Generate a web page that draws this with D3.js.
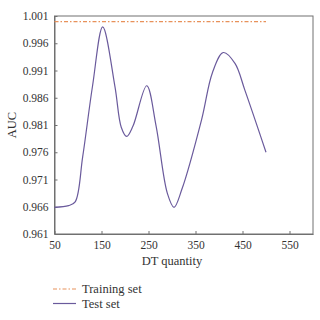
<!DOCTYPE html>
<html>
<head>
<meta charset="utf-8">
<script src="https://cdn.jsdelivr.net/npm/d3@7"></script>
<style>
  body { margin: 0; background: #fff; }
  svg text { font-family: "Liberation Serif", "DejaVu Serif", serif; fill: #333; }
</style>
</head>
<body>
<svg id="chart" width="320" height="320"></svg>
<script>
// axis ticks
const xTicks = [50, 150, 250, 350, 450, 550];
const yTicks = [0.961, 0.966, 0.971, 0.976, 0.981, 0.986, 0.991, 0.996, 1.001];

// training set (flat line)
const trainX = [50, 500];
const trainY = [0.99995, 0.99995];

// test set
const testX = [50, 80, 94, 110, 131, 152.6, 178.7, 192, 203.6, 217, 246.2, 266, 290, 304.3, 321, 363, 386, 409.2, 434, 455, 500];
const testY = [0.9659, 0.9662, 0.9669, 0.9752, 0.9882, 0.9990, 0.9880, 0.9806, 0.9789, 0.9808, 0.9882, 0.9809, 0.9685, 0.9659, 0.9692, 0.9820, 0.9906, 0.9943, 0.9923, 0.9874, 0.9760];

const seriesNames = ['Training set', 'Test set'];
const colours = ['#e8915a', '#6a5a9c'];

const dim = {left: 54.5, top: 16, right: 313, bottom: 234};
const svg = d3.select('#chart');

const x = d3.scaleLinear().domain([50, 600]).range([dim.left, dim.right]);
const y = d3.scaleLinear().domain([0.961, 1.001]).range([dim.bottom, dim.top]);

// frame
svg.append('rect')
  .attr('x', dim.left)
  .attr('y', dim.top)
  .attr('width', dim.right - dim.left)
  .attr('height', dim.bottom - dim.top)
  .attr('fill', 'none')
  .attr('stroke', '#707070')
  .attr('stroke-width', 1);

// axes with inward ticks
const xAxis = svg.append('g')
  .attr('transform', `translate(0, ${dim.bottom})`)
  .call(d3.axisBottom(x).tickValues(xTicks).tickSizeInner(-3).tickSizeOuter(0).tickPadding(7));

const yAxis = svg.append('g')
  .attr('transform', `translate(${dim.left}, 0)`)
  .call(d3.axisLeft(y).tickValues(yTicks).tickFormat(d3.format('.3f')).tickSizeInner(-3).tickSizeOuter(0).tickPadding(6));

[xAxis, yAxis].forEach(a => {
  a.select('.domain').attr('stroke', '#707070');
  a.selectAll('line').attr('stroke', '#707070');
  a.selectAll('text')
    .attr('font-family', '"Liberation Serif", serif')
    .attr('font-size', 11.5)
    .attr('fill', '#333');
});

// axis titles
svg.append('text')
  .attr('x', 172)
  .attr('y', 265)
  .attr('text-anchor', 'middle')
  .attr('font-size', 12.5)
  .text('DT quantity');

svg.append('text')
  .attr('transform', `translate(16, 125) rotate(-90)`)
  .attr('text-anchor', 'middle')
  .attr('font-size', 12.5)
  .text('AUC');

// lines
const trainData = trainX.map((d, i) => [d, trainY[i]]);
const testData = testX.map((d, i) => [d, testY[i]]);

const line = d3.line()
  .x(d => x(d[0]))
  .y(d => y(d[1]))
  .curve(d3.curveCatmullRom.alpha(0.5));

svg.append('path')
  .datum(trainData)
  .attr('d', line)
  .attr('fill', 'none')
  .attr('stroke', colours[0])
  .attr('stroke-width', 1.2)
  .attr('stroke-dasharray', '4,2,1.5,2');

svg.append('path')
  .datum(testData)
  .attr('d', line)
  .attr('fill', 'none')
  .attr('stroke', colours[1])
  .attr('stroke-width', 1.2);

// legend
const legend = svg.append('g');
const legendItems = legend.selectAll('g')
  .data(seriesNames)
  .enter().append('g')
    .attr('transform', (d, i) => `translate(0, ${289 + i * 14.5})`);

legendItems.append('line')
  .attr('x1', 53)
  .attr('x2', 76)
  .attr('stroke', (d, i) => colours[i])
  .attr('stroke-width', 1.2)
  .attr('stroke-dasharray', (d, i) => i === 0 ? '4,2,1.5,2' : null);

legendItems.append('text')
  .attr('x', 82)
  .attr('dy', 4)
  .attr('font-size', 12.5)
  .text(d => d);
</script>
</body>
</html>
